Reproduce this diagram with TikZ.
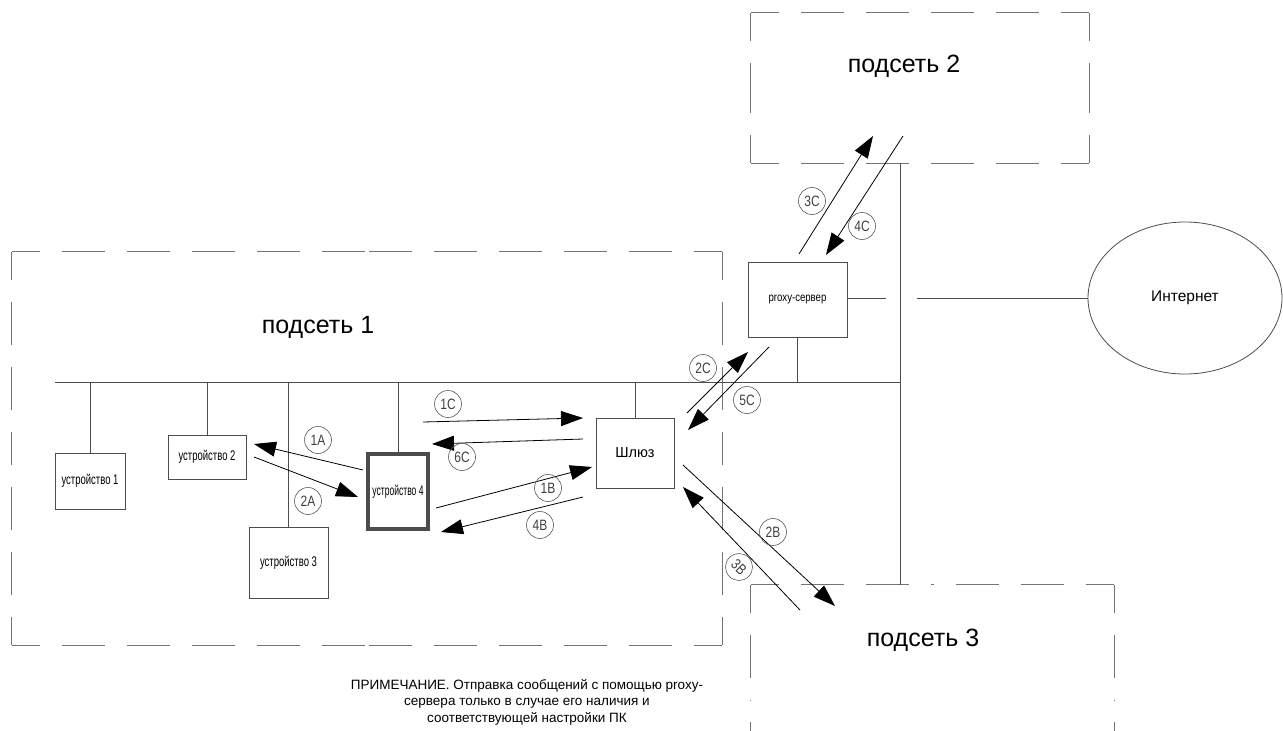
\documentclass[tikz,border=0pt]{standalone}
\usepackage{fontspec}
\setmainfont{Liberation Sans}
\newfontfamily\narrowfont[FakeStretch=0.68]{Liberation Sans}
\newfontfamily\devfourfont[FakeStretch=0.61]{Liberation Sans}
\newfontfamily\proxyfont[FakeStretch=0.8]{Liberation Sans}
\newfontfamily\tagfont[FakeStretch=0.8]{Liberation Sans}
\usetikzlibrary{shapes.geometric, arrows.meta, positioning}

\begin{document}
\begin{tikzpicture}[
    x=1pt, y=-1pt,
    netline/.style  = {draw=black!70, line width=0.8pt},
    dashline/.style = {draw=black!55, line width=0.9pt,
                       dash pattern=on 43pt off 22pt, dash phase=15pt},
    subnet/.style   = {rectangle, inner sep=0pt},
    netlabel/.style = {font=\fontsize{25}{25}\selectfont},
    device/.style   = {rectangle, draw=black!70, line width=0.8pt, inner sep=1pt,
                       font=\narrowfont\fontsize{14}{14}\selectfont},
    tag/.style      = {circle, draw=black!65, line width=0.6pt, minimum size=27pt,
                       inner sep=0pt, text=black!75, font=\tagfont\fontsize{15}{15}\selectfont},
    msg/.style      = {-{Triangle[length=22pt, width=15pt]}, line width=0.8pt},
]
\useasboundingbox (0,0) rectangle (1283,731);
\clip (0,0) rectangle (1283,731);

% subnets
\node[subnet, minimum width=710pt, minimum height=393pt] (net1) at (367,448.5) {};
\node[subnet, minimum width=338pt, minimum height=150pt] (net2) at (920,88) {};
\node[subnet, minimum width=363pt, minimum height=230pt] (net3) at (932.5,700) {};
\foreach \n in {net1, net2, net3}
    \foreach \c/\h/\v in {north west/north/west, north east/north/east,
                          south west/south/west, south east/south/east} {
        \draw[dashline] (\n.\c) -- (\n.\h);
        \draw[dashline] (\n.\c) -- (\n.\v);
    }
\node[netlabel] (net1lbl) at (318,327) {подсеть 1};
\node[netlabel] (net2lbl) at (904,66)  {подсеть 2};
\node[netlabel] (net3lbl) at (923,640) {подсеть 3};

% devices
\node[device, minimum width=70pt, minimum height=56pt] (dev1) at (90,481)    {устройство 1};
\node[device, minimum width=78pt, minimum height=44pt] (dev2) at (207,457)   {устройство 2};
\node[device, minimum width=79pt, minimum height=71pt] (dev3) at (288.5,562.5) {устройство 3};
\node[device, minimum width=60pt, minimum height=75pt, line width=4pt,
      font=\devfourfont\fontsize{14}{14}\selectfont] (dev4) at (398,491.5) {устройство 4};
\node[device, minimum width=78pt, minimum height=70pt,
      font=\fontsize{14.5}{14.5}\selectfont] (gw) at (635,453) {Шлюз};
\node[device, minimum width=99pt, minimum height=75pt,
      font=\proxyfont\fontsize{12}{12}\selectfont] (proxy) at (797.5,300) {proxy-сервер};
\node[ellipse, draw=black!70, line width=0.8pt, minimum width=194pt, minimum height=152pt,
      inner sep=0pt, font=\fontsize{15.5}{15.5}\selectfont] (inet) at (1185,298) {Интернет};

% bus
\coordinate (busW) at (55,382);
\coordinate (busE) at (900,382);
\draw[netline] (busW) -- (busE);
\draw[netline] (net2.south -| busE) -- (net3.north -| busE);
\foreach \d/\a in {dev1/north, dev2/north, dev3/north, dev4/north, gw/north, proxy/south}
    \draw[netline] (\d.\a) -- (\d.\a |- busW);
\coordinate (gapL) at (886,298);
\coordinate (gapR) at (917,298);
\draw[netline] (proxy.east |- gapL) -- (gapL);
\draw[netline] (gapR) -- (inet.west);

% message ends
\coordinate (m1As) at (363,470);  \coordinate (m1Ae) at (254,444);
\coordinate (m2As) at (254,457);  \coordinate (m2Ae) at (358,497);
\coordinate (m1Cs) at (423,422);  \coordinate (m1Ce) at (583,418);
\coordinate (m6Cs) at (583,439);  \coordinate (m6Ce) at (432,444);
\coordinate (m1Bs) at (436,508);  \coordinate (m1Be) at (592,467);
\coordinate (m4Bs) at (583,497);  \coordinate (m4Be) at (441,532);
\coordinate (m2Cs) at (687,413);  \coordinate (m2Ce) at (748,352);
\coordinate (m5Cs) at (769,347);  \coordinate (m5Ce) at (688,430);
\coordinate (m3Cs) at (799,254);  \coordinate (m3Ce) at (873,136);
\coordinate (m4Cs) at (903,136);  \coordinate (m4Ce) at (826,255);
\coordinate (m2Bs) at (683,465);  \coordinate (m2Be) at (835,606);
\coordinate (m3Bs) at (800,610);  \coordinate (m3Be) at (683,487);

\foreach \m in {1A, 2A, 1C, 6C, 1B, 4B, 2C, 5C, 3C, 4C, 2B, 3B}
    \draw[msg] (m\m s) -- (m\m e);

% step tags
\node[tag] (t1A) at (318,440) {1A};
\node[tag] (t2A) at (308,501) {2A};
\node[tag] (t1C) at (448,404) {1C};
\node[tag] (t6C) at (462,457) {6C};
\node[tag] (t1B) at (548,488) {1B};
\node[tag] (t4B) at (540,525) {4B};
\node[tag] (t2C) at (703,368) {2C};
\node[tag] (t5C) at (747,400) {5C};
\node[tag] (t3C) at (812,201) {3C};
\node[tag] (t4C) at (862,226) {4C};
\node[tag] (t2B) at (773,532) {2B};
\node[tag, rotate=-45] (t3B) at (739,567) {3B};

% note
\node[align=center, font=\fontsize{13.5}{16.5}\selectfont] (note) at (527,702)
    {ПРИМЕЧАНИЕ. Отправка сообщений с помощью proxy-\\
     сервера только в случае его наличия и\\
     соответствующей настройки ПК};
\end{tikzpicture}
\end{document}
